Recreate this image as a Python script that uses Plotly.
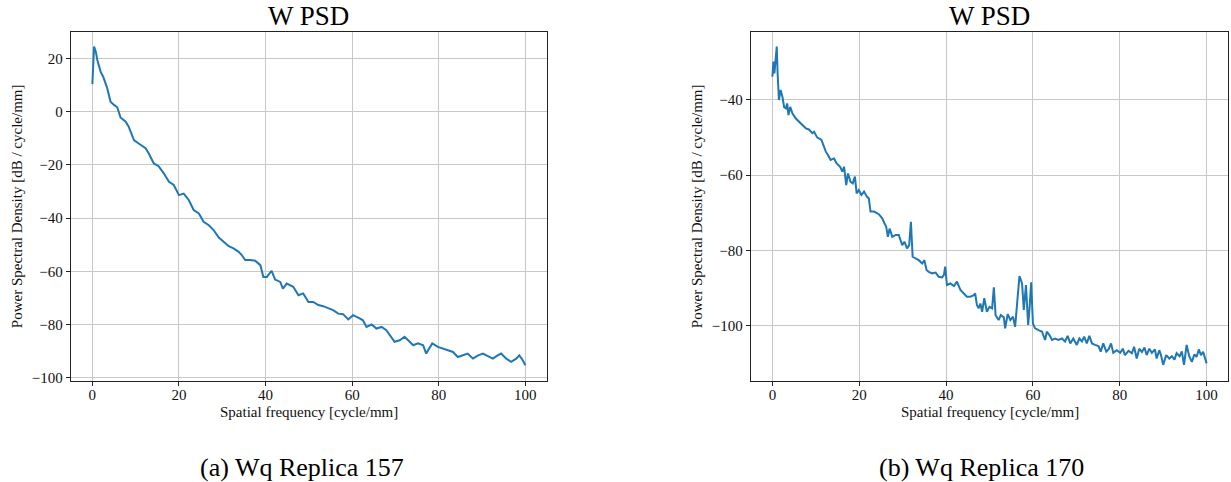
import plotly.graph_objects as go

# ---- data ----
freq_a = [0, 0.4, 0.8, 1.15, 1.9, 2.5, 3.45, 4.2, 5.0, 5.75, 6.5, 7.7, 8.4, 9.6, 10.7, 12.3, 13.0, 14.2,
          15.3, 16.5, 17.7, 18.8, 20, 21.1, 22.3, 23.4, 24.6, 25.7, 26.9, 28.0, 29.2, 30.3, 31.5, 32.6,
          33.8, 34.5, 35.3, 36.5, 37.6, 38.8, 39.5, 40.3, 41.4, 42.2, 43.4, 44, 44.9, 46.4, 47.6, 48.7,
          49.9, 51, 52.2, 53.3, 54.5, 55.6, 56.8, 57.9, 59.1, 60.2, 61.4, 62.5, 63.3, 64.5, 65.6, 66.8,
          67.9, 68.7, 69.8, 71.0, 72.1, 73.3, 74.1, 75.2, 76.4, 77.1, 77.9, 78.5, 79.8, 81, 82.1, 83.3,
          84.4, 85.6, 86.7, 87.9, 89.1, 90.2, 91.3, 92.5, 93.6, 94.4, 95.6, 96.7, 97.9, 98.6, 99.4, 100]
psd_a = [10.3, 24.4, 22.5, 19.4, 15, 13.1, 8.7, 3.7, 2.5, 1.6, -2.2, -3.8, -5.7, -10.7, -12, -13.8, -15.7,
         -19.5, -20.5, -23.2, -26.4, -27.6, -31.4, -30.8, -33.3, -37, -38.3, -41.4, -42.7, -44.5, -47.3,
         -48.9, -50.6, -51.4, -52.7, -53.9, -55.8, -55.8, -56, -57.7, -62.1, -62.1, -59.8, -63.1, -64,
         -66.5, -64.6, -65.8, -69, -68.3, -71.5, -71.5, -72.7, -73.1, -74, -74.6, -75.9, -76.1, -78.1,
         -76.5, -77.4, -78.4, -80.9, -80, -81.5, -80.9, -82.1, -84, -86.5, -85.9, -84.6, -86.5, -87.8,
         -87.1, -87.8, -90.9, -88.4, -87.1, -88.4, -89, -89.7, -90.3, -92.2, -91.6, -90.9, -92.8, -91.6,
         -90.9, -91.9, -92.8, -91.6, -90.9, -92.8, -94, -92.8, -91.6, -93.4, -95.3]

freq_b = [0, 0.23, 0.46, 0.7, 1.0, 1.2, 1.5, 1.9, 2.3, 2.7, 3.1, 3.4, 3.7, 4.1, 4.6, 5.4, 6.1, 6.9, 7.7,
          8.4, 9.2, 9.6, 10.3, 11.3, 11.7, 12.3, 12.8, 13.4, 14.2, 14.8, 15.6, 16.1, 16.5, 17.0, 17.4,
          18.0, 18.5, 19.0, 19.4, 19.9, 20.5, 21.1, 21.8, 22.2, 22.6, 23.4, 24.5, 25.3, 25.8, 26.2, 26.6,
          27, 27.6, 28.4, 29.1, 29.9, 30.4, 31.0, 31.5, 31.9, 32.3, 32.9, 33.7, 34.5, 35.0, 35.5, 36,
          36.8, 37.6, 38.3, 39.1, 39.5, 39.8, 40.2, 41.0, 41.8, 42.5, 43.3, 44.1, 44.8, 45.6, 46.4, 46.7,
          47.1, 47.5, 47.9, 48.3, 48.8, 49.4, 50, 50.6, 51.0, 51.4, 52.1, 52.6, 53.3, 53.6, 54.2, 54.8,
          55.4, 55.9, 56.5, 56.9, 57.5, 57.9, 58.4, 58.9, 59.2, 59.6, 60, 60.5, 61.3, 62.1, 62.8, 63.2,
          63.8, 64.4, 65.1, 65.9, 66.7, 67.4, 68, 68.6, 69.3, 70.1, 70.7, 71.3, 71.8, 72.4, 73, 73.6,
          74.3, 75.1, 75.6, 76.2, 76.9, 77.4, 78, 78.5, 79.3, 80.1, 80.7, 81.2, 82, 82.8, 83.3, 83.9,
          84.5, 85.1, 85.7, 86.2, 86.8, 87.4, 88.1, 88.5, 89.1, 89.5, 90, 90.7, 91.4, 92, 92.6, 93.1,
          93.8, 94.3, 94.8, 95.4, 96.0, 96.6, 97.2, 97.7, 98.2, 98.7, 99.2, 99.6, 100]
psd_b = [-33.9, -29.9, -33, -30.4, -25.9, -33, -40.1, -37.4, -39.2, -42, -42.3, -41, -44.1, -41.9, -43.6,
         -45, -45.8, -46.7, -47.6, -47.9, -48.9, -48.5, -50, -50.7, -52, -53.8, -54.7, -56, -55.6, -56.9,
         -57.8, -59.1, -57.8, -62.7, -59.6, -61.8, -62.2, -60.4, -64.9, -64, -65.3, -64.4, -65.8, -66.2,
         -69.7, -69.7, -70.4, -71.5, -72.8, -73.7, -76.4, -74.2, -76.4, -75.9, -75.9, -78.6, -77.7, -79.5,
         -78.6, -72.4, -81.7, -82.1, -82.6, -83.5, -82.6, -85.2, -85.7, -86.1, -85.9, -87, -87.2, -86.5,
         -84.3, -89.2, -88.8, -89.5, -88.3, -90.5, -91.4, -92.3, -92.3, -91.9, -91.4, -94.5, -95.4, -94.1,
         -96.3, -92.7, -96.3, -95, -95.4, -89.8, -97.2, -98.5, -97.2, -97.8, -100.7, -96.9, -98.5, -97.6,
         -100.3, -92.3, -86.8, -88.8, -95.8, -89.2, -99.8, -95.8, -88.5, -99.4, -100.7, -101.2, -101.6,
         -103.8, -101.6, -102.5, -103.8, -103.4, -103.8, -103.4, -104.2, -102.7, -104.7, -103.4, -105.1,
         -103.4, -104.2, -102.9, -104.7, -102.7, -104.7, -105.1, -105.4, -106.9, -104.7, -106.9, -106.3,
         -104.7, -107.2, -106.5, -107.2, -106.1, -107.8, -106.7, -107.3, -105.6, -108.7, -106.1, -107,
         -105.8, -107.8, -106.1, -107.2, -106.3, -108.7, -106.5, -107.8, -110.4, -107.8, -108.7, -108.1,
         -109, -107.3, -108.1, -106.8, -110.4, -105.1, -108.1, -109.6, -107.6, -108.3, -106.3, -107.8,
         -106.9, -108.7, -110]

x_ticks = [0, 20, 40, 60, 80, 100]
y_ticks_a = [20, 0, -20, -40, -60, -80, -100]
y_ticks_b = [-40, -60, -80, -100]
titles = ["W PSD", "W PSD"]
captions = ["(a) Wq Replica 157", "(b) Wq Replica 170"]
x_label = "Spatial frequency [cycle/mm]"
y_label = "Power Spectral Density [dB / cycle/mm]"

W, H = 1231, 482
FONT = "Liberation Serif"
LINE = "#1f77b4"
GRID = "#c8c8c8"

def px(x):
    return x / W

def py(y):
    return 1 - y / H

fig = go.Figure()
fig.add_trace(go.Scatter(x=freq_a, y=psd_a, mode="lines", line=dict(color=LINE, width=2),
                         xaxis="x", yaxis="y", showlegend=False))
fig.add_trace(go.Scatter(x=freq_b, y=psd_b, mode="lines", line=dict(color=LINE, width=2),
                         xaxis="x2", yaxis="y2", showlegend=False))

# axes boxes in window pixels
boxes = [(70.7, 547.0), (750.7, 1228.3)]
top_px, bot_px = 31.7, 380.7
ydom = [py(bot_px), py(top_px)]

def ax_common():
    return dict(showline=True, linecolor="#222222", linewidth=1, mirror=True,
                ticks="outside", ticklen=4, tickcolor="#222222", tickwidth=1,
                showgrid=True, gridcolor=GRID, gridwidth=1, zeroline=False,
                tickfont=dict(family=FONT, size=15, color="#111111"))

fig.update_layout(
    width=W, height=H, margin=dict(l=0, r=0, t=0, b=0, autoexpand=False),
    plot_bgcolor="white", paper_bgcolor="white",
    xaxis=dict(domain=[px(boxes[0][0]), px(boxes[0][1])], range=[-5, 105], tickvals=x_ticks,
               anchor="y", ticklabelstandoff=-4, **ax_common()),
    yaxis=dict(domain=ydom, range=[-101.1, 30], tickvals=y_ticks_a, anchor="x", **ax_common()),
    xaxis2=dict(domain=[px(boxes[1][0]), px(boxes[1][1])], range=[-5, 105], tickvals=x_ticks,
                anchor="y2", ticklabelstandoff=-4, **ax_common()),
    yaxis2=dict(domain=ydom, range=[-114.6, -21.95], tickvals=y_ticks_b, anchor="x2", **ax_common()),
)

ann = []
for i, (l, r) in enumerate(boxes):
    cx = px((l + r) / 2)
    ann.append(dict(text=titles[i], x=cx, y=1, xref="paper", yref="paper",
                    showarrow=False, font=dict(family=FONT, size=27, color="#000000"),
                    xanchor="center", yanchor="top", borderpad=0))
    ann.append(dict(text=x_label, x=cx, y=py(412), xref="paper", yref="paper",
                    showarrow=False, font=dict(family=FONT, size=15, color="#111111"),
                    xanchor="center", yanchor="middle"))
    ylx = [17, 697][i]
    ann.append(dict(text=y_label, x=px(ylx), y=py((top_px + bot_px) / 2), xref="paper",
                    yref="paper", showarrow=False, textangle=-90,
                    font=dict(family=FONT, size=15, color="#111111"),
                    xanchor="center", yanchor="middle"))
    capx = [302, 981][i]
    ann.append(dict(text=captions[i], x=px(capx), y=py(467), xref="paper", yref="paper",
                    showarrow=False, font=dict(family=FONT, size=26, color="#000000"),
                    xanchor="center", yanchor="middle"))
fig.update_layout(annotations=ann)

# remove the default 8px page margin so the figure fills the window exactly
fig.write_html("out.html", config={"displayModeBar": False},
               post_script="document.body.style.margin='0';document.body.style.overflow='hidden';")
